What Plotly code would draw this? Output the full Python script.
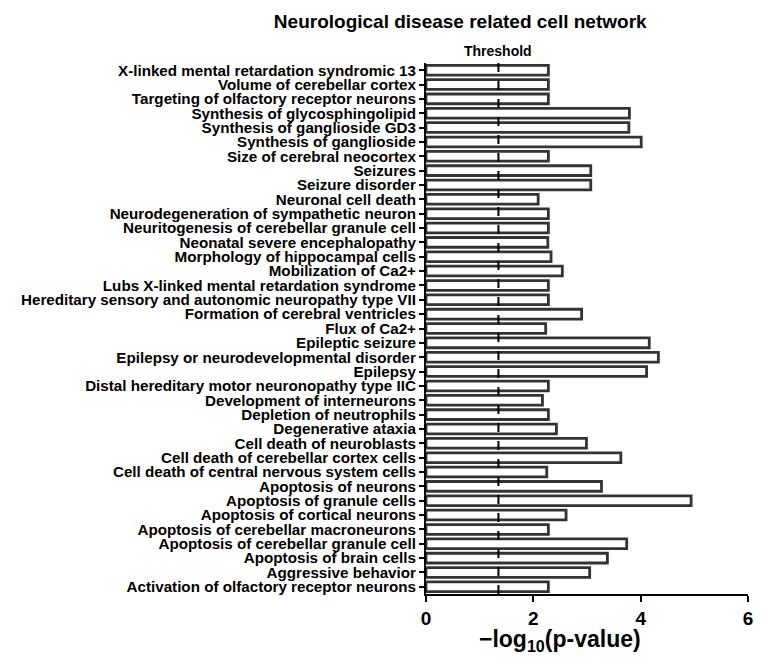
import plotly.graph_objects as go

categories = [
    "X-linked mental retardation syndromic 13",
    "Volume of cerebellar cortex",
    "Targeting of olfactory receptor neurons",
    "Synthesis of glycosphingolipid",
    "Synthesis of ganglioside GD3",
    "Synthesis of ganglioside",
    "Size of cerebral neocortex",
    "Seizures",
    "Seizure disorder",
    "Neuronal cell death",
    "Neurodegeneration of sympathetic neuron",
    "Neuritogenesis of cerebellar granule cell",
    "Neonatal severe encephalopathy",
    "Morphology of hippocampal cells",
    "Mobilization of Ca2+",
    "Lubs X-linked mental retardation syndrome",
    "Hereditary sensory and autonomic neuropathy type VII",
    "Formation of cerebral ventricles",
    "Flux of Ca2+",
    "Epileptic seizure",
    "Epilepsy or neurodevelopmental disorder",
    "Epilepsy",
    "Distal hereditary motor neuronopathy type IIC",
    "Development of interneurons",
    "Depletion of neutrophils",
    "Degenerative ataxia",
    "Cell death of neuroblasts",
    "Cell death of cerebellar cortex cells",
    "Cell death of central nervous system cells",
    "Apoptosis of neurons",
    "Apoptosis of granule cells",
    "Apoptosis of cortical neurons",
    "Apoptosis of cerebellar macroneurons",
    "Apoptosis of cerebellar granule cell",
    "Apoptosis of brain cells",
    "Aggressive behavior",
    "Activation of olfactory receptor neurons",
]
values = [
    2.28, 2.28, 2.28, 3.79, 3.78, 4.01, 2.28, 3.07, 3.07, 2.09,
    2.28, 2.28, 2.27, 2.33, 2.54, 2.28, 2.28, 2.90, 2.23, 4.16,
    4.33, 4.11, 2.28, 2.17, 2.28, 2.43, 2.99, 3.63, 2.25, 3.27,
    4.94, 2.61, 2.28, 3.74, 3.38, 3.05, 2.28,
]
threshold = 1.35
x_ticks = [0, 2, 4, 6]

FONT = "Liberation Sans, Arial, sans-serif"

fig = go.Figure()
fig.add_trace(go.Bar(
    y=categories,
    x=values,
    orientation="h",
    width=0.68,
    marker=dict(color="white", line=dict(color="#333333", width=2.8)),
    showlegend=False,
))

fig.add_shape(type="line", xref="x", yref="paper",
              x0=threshold, x1=threshold, y0=0, y1=1,
              line=dict(color="black", width=2, dash="dash"))
fig.add_annotation(x=threshold, y=1, xref="x", yref="paper",
                   text="<b>Threshold</b>", showarrow=False,
                   yanchor="bottom", yshift=2,
                   font=dict(family=FONT, size=14, color="black"))
fig.add_annotation(x=0.416, y=0, xref="paper", yref="paper",
                   text="<b>−log<sub>10</sub>(p-value)</b>", showarrow=False,
                   yanchor="middle", yshift=-46,
                   font=dict(family=FONT, size=23, color="black"))

fig.update_layout(
    width=755, height=653,
    margin=dict(l=418, r=15, t=55, b=67, autoexpand=False),
    paper_bgcolor="white", plot_bgcolor="white",
    title=dict(text="<b>Neurological disease related cell network</b>",
               x=0.599, xanchor="center", y=0.98, yanchor="middle",
               font=dict(family=FONT, size=19, color="black")),
    font=dict(family=FONT, color="black"),
)
fig.update_xaxes(
    range=[0, 6], tickvals=x_ticks, ticktext=[f"<b>{t}</b>" for t in x_ticks],
    showline=True, linecolor="black", linewidth=2,
    ticks="outside", ticklen=6, tickwidth=2, tickcolor="black",
    tickfont=dict(family=FONT, size=19, color="black"),
    showgrid=False, zeroline=False, automargin=False,
)
fig.update_yaxes(
    categoryorder="array", categoryarray=categories[::-1],
    range=[-0.5, len(categories) - 0.5],
    showline=True, linecolor="black", linewidth=2,
    ticks="outside", ticklen=5, tickwidth=2, tickcolor="black",
    ticktext=[f"<b>{c}</b>" for c in categories], tickvals=categories,
    tickfont=dict(family=FONT, size=15.2, color="black"),
    showgrid=False, zeroline=False, automargin=False,
)

fig.write_html("out.html")
